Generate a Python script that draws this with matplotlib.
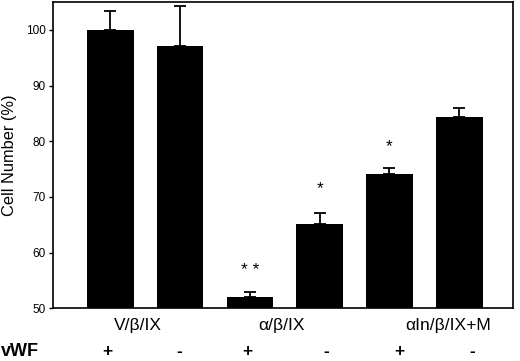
import numpy as np
import matplotlib
matplotlib.use("Agg")
import matplotlib.pyplot as plt

plt.rcParams['font.family'] = ['Liberation Sans', 'DejaVu Sans']

# data
means = [100.0, 97.1, 52.1, 65.2, 74.2, 84.3]
errs = [3.3, 7.2, 0.8, 1.9, 1.0, 1.7]
stars = ['', '', '* *', '*', '*', '']
star_y = [0, 0, 56.0, 70.7, 78.2, 0]
groups = ['V/\u03b2/IX', '\u03b1/\u03b2/IX', '\u03b1In/\u03b2/IX+M']
vwf = ['+', '-', '+', '-', '+', '-']

x = np.arange(len(means))

fig = plt.figure(figsize=(5.2, 3.61), dpi=100)
ax = fig.add_axes([0.101, 0.146, 0.8855, 0.8485])

ax.bar(x, [m - 50 for m in means], bottom=50, width=0.67, color='black')
ax.errorbar(x, means, yerr=[np.zeros(len(errs)), errs], fmt='none',
            ecolor='black', elinewidth=1.3, capsize=4, capthick=1.3)

for xi, s, sy in zip(x, stars, star_y):
    if s:
        ax.text(xi, sy, s, ha='center', va='baseline', fontsize=12.5)

ax.set_xlim(-0.828, 5.77)
ax.set_ylim(50, 105)
ax.set_yticks([50, 60, 70, 80, 90, 100])
ax.set_xticks([])
ax.tick_params(axis='y', labelsize=8.5, length=3, width=1, pad=2)
ax.set_ylabel('Cell Number (%)', fontsize=11.8, labelpad=6)
for sp in ax.spines.values():
    sp.set_linewidth(1.2)

# group labels and vWF row below the axes, placed by pixel rows
trans = ax.get_xaxis_transform()
ax_h = 305.3
grp_y = -(330 - 308.3) / ax_h
row_y = -(355.5 - 308.3) / ax_h
for gx, g in zip([0.39, 2.45, 4.84], groups):
    ax.text(gx, grp_y, g, transform=trans, ha='center', va='baseline',
            fontsize=12.5, clip_on=False)
vx = [-0.04, 0.99, 1.96, 3.1, 4.14, 5.18]
for px, v in zip(vx, vwf):
    ax.text(px, row_y, v, transform=trans, ha='center',
            va='baseline', fontsize=12.5, fontweight='bold', clip_on=False)
fig.text(0.002, 1 - 355.5 / 361, 'vWF', ha='left', va='baseline',
         fontsize=13, fontweight='bold')

fig.savefig('out.png', dpi=100)
